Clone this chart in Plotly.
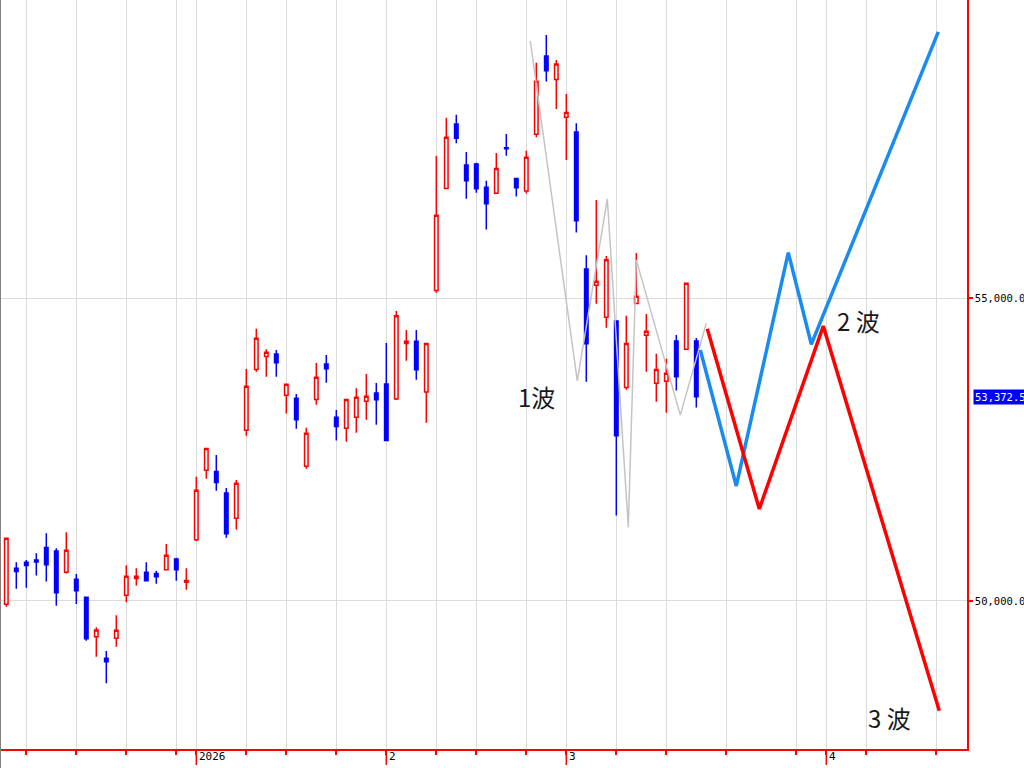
"""Candlestick chart with wave projection lines (1波 / 2波 / 3波)."""

import plotly.graph_objects as go


# ── Data ──────────────────────────────────────────────────────────────────────
opens = [
    49945, 50540, 50640, 50675, 50885, 50825, 50475, 50360, 50060, 49410,
    49055, 49385, 50095, 50370, 50475, 50455, 50515, 50695, 50310, 51010,
    52160, 52140, 51785, 51365, 52820, 53825, 54040, 54080, 53400, 53350,
    52225, 53330, 53915, 53035, 52855, 53035, 53300, 53435, 53585, 53335,
    54255, 54290, 53450, 55130, 56815, 57880, 57200, 57220, 56835, 56735,
    57485, 56980, 56770, 57710, 59000, 58615, 57990, 57745, 55485, 55215,
    54685, 54625, 53525, 54915, 54390, 53595, 53630, 54295, 54160, 54295,
]
highs = [
    51035, 50640, 50675, 50790, 51120, 50870, 51135, 50445, 50060, 49565,
    49175, 49765, 50590, 50540, 50640, 50500, 50940, 50715, 50540, 52050,
    52520, 52410, 51865, 52000, 53830, 54495, 54160, 54145, 53580, 53420,
    52860, 53930, 54065, 53155, 53330, 53515, 53750, 53600, 54260, 54790,
    54475, 54475, 54255, 57350, 57980, 58030, 57415, 57240, 56940, 57400,
    57715, 56980, 57435, 58890, 59350, 58935, 58375, 57890, 55710, 56625,
    55700, 54625, 54710, 55750, 54740, 54085, 54000, 54395, 55250, 54345,
]
lows = [
    49905, 50200, 50220, 50420, 50320, 49920, 50455, 49950, 49345, 49080,
    48640, 49245, 49980, 50255, 50320, 50285, 50515, 50335, 50185, 50990,
    52020, 51820, 51045, 51180, 52730, 53785, 53705, 53705, 53095, 52845,
    52185, 53240, 53605, 52650, 52630, 52780, 52995, 52910, 52650, 53320,
    53970, 53655, 52945, 55090, 56815, 57560, 56645, 56745, 56135, 56735,
    57355, 56680, 56730, 57660, 58580, 58125, 57285, 56085, 53620, 54910,
    54515, 51410, 53490, 54915, 53785, 53290, 53110, 53475, 54160, 53195,
]
closes = [
    51035, 50485, 50585, 50645, 50600, 50135, 50840, 50170, 49375, 49520,
    48995, 49515, 50410, 50410, 50335, 50400, 50755, 50515, 50340, 51830,
    52520, 51955, 51110, 51945, 53545, 54340, 54110, 53935, 53580, 52995,
    52770, 53695, 53835, 52880, 53330, 53365, 53380, 53325, 52650, 54710,
    54290, 53820, 54255, 56370, 57660, 57645, 56940, 56810, 56560, 57145,
    57470, 56825, 57330, 58585, 58760, 58870, 58070, 56280, 54250, 55280,
    55635, 52730, 54255, 55035, 54455, 53825, 53760, 53705, 55250, 53372.5,
]
days = list(range(len(closes)))

# hand-drawn zigzag (grey) and the two wave scenarios
zigzag_x = [52.4, 57.1, 60.1, 62.2, 63.0, 67.4, 70.0]
zigzag_y = [59250, 53635, 56640, 51220, 55635, 53070, 54590]

bull_x = [69.4, 73.0, 78.2, 80.5, 93.2]
bull_y = [54145, 51900, 55755, 54240, 59400]

bear_x = [70.1, 75.3, 81.7, 93.3]
bear_y = [54495, 51520, 54540, 48185]

wave_text = ["1波", "2 波", "3 波"]
wave_x = [53.0, 85.2, 88.3]
wave_y = [53370, 54640, 48070]

week_ticks = [2, 7, 12, 17, 19, 24, 28, 33, 38, 43, 47, 52, 56, 61, 66,
              72, 79, 82, 86, 93]
month_ticks = [19, 38, 56, 82]
month_labels = ["2026", "2", "3", "4"]

price_ticks = [50000, 55000]
last_price = closes[-1]

_RED = "#ff0000"
_BLUE = "#0000ff"
_GRID = "#dcdcdc"
_MONO = "DejaVu Sans Mono"

_W, _H = 1024, 768
_MARGIN = dict(l=0, r=57, t=0, b=19)
_PLOT_H = _H - _MARGIN["t"] - _MARGIN["b"]


fig = go.Figure()

fig.add_trace(go.Candlestick(
    x=days, open=opens, high=highs, low=lows, close=closes,
    increasing=dict(line=dict(color=_RED, width=1.5), fillcolor="#ffffff"),
    decreasing=dict(line=dict(color=_BLUE, width=1.5), fillcolor=_BLUE),
    whiskerwidth=0,
    hoverinfo="skip",
))

fig.add_trace(go.Scatter(
    x=zigzag_x, y=zigzag_y, mode="lines",
    line=dict(color="#c4c4c4", width=1.5),
    hoverinfo="skip",
))
fig.add_trace(go.Scatter(
    x=bull_x, y=bull_y, mode="lines",
    line=dict(color="#1a8cf0", width=3.5),
    hoverinfo="skip",
))
fig.add_trace(go.Scatter(
    x=bear_x, y=bear_y, mode="lines",
    line=dict(color=_RED, width=3.5),
    hoverinfo="skip",
))

for txt, x, y in zip(wave_text, wave_x, wave_y):
    fig.add_annotation(
        x=x, y=y, xref="x", yref="y", text=txt, showarrow=False,
        font=dict(family="Noto Sans CJK JP", size=24, color="#1a1a1a"),
    )

# ── Month markers below the time axis ────────────────────────────────────────
tick_drop = 16 / _PLOT_H
for x, label in zip(month_ticks, month_labels):
    fig.add_shape(
        type="line", xref="x", yref="paper",
        x0=x, x1=x, y0=0, y1=-tick_drop,
        line=dict(color=_RED, width=1.5),
    )
    fig.add_annotation(
        x=x, y=-tick_drop / 2, xref="x", yref="paper",
        text=label, showarrow=False,
        xanchor="left", yanchor="middle", xshift=1,
        font=dict(family=_MONO, size=11, color="#000000"),
    )

# last price tag on the price axis
fig.add_annotation(
    x=1, y=last_price, xref="paper", yref="y",
    text=f"{last_price:,.1f}", showarrow=False,
    xanchor="left", yanchor="middle", xshift=6,
    bgcolor=_BLUE, borderpad=1,
    font=dict(family=_MONO, size=10.5, color="#ffffff"),
)

# window edge on the left
fig.add_shape(
    type="line", xref="paper", yref="paper",
    x0=0, x1=0, y0=-_MARGIN["b"] / _PLOT_H, y1=1,
    line=dict(color="#808080", width=2),
)

# ── Layout ────────────────────────────────────────────────────────────────────
fig.update_layout(
    template="none",
    width=_W, height=_H,
    margin=_MARGIN,
    paper_bgcolor="#ffffff",
    plot_bgcolor="#ffffff",
    showlegend=False,
    boxgap=0.5,
    font=dict(family=_MONO, size=11, color="#000000"),
)
fig.update_xaxes(
    range=[-0.63, 96.07],
    tickmode="array", tickvals=week_ticks, showticklabels=False,
    ticks="outside", ticklen=4, tickwidth=1.5, tickcolor=_RED,
    showgrid=True, gridcolor=_GRID, gridwidth=1,
    showline=True, linecolor=_RED, linewidth=1.5,
    zeroline=False, automargin=False,
    rangeslider=dict(visible=False),
)
fig.update_yaxes(
    side="right",
    range=[47555, 59927],
    tickmode="array", tickvals=price_ticks, tickformat=",.2f",
    ticks="outside", ticklen=4, tickwidth=1.5, tickcolor=_RED,
    tickfont=dict(family=_MONO, size=10.5, color="#000000"),
    showgrid=True, gridcolor=_GRID, gridwidth=1,
    showline=True, linecolor=_RED, linewidth=1.5,
    zeroline=False, automargin=False,
)

# page body margin would shift the 1024x768 figure off the window
fig.write_html(
    "out.html",
    config={"displayModeBar": False},
    post_script="document.body.style.margin='0';"
                "document.body.style.overflow='hidden';",
)
